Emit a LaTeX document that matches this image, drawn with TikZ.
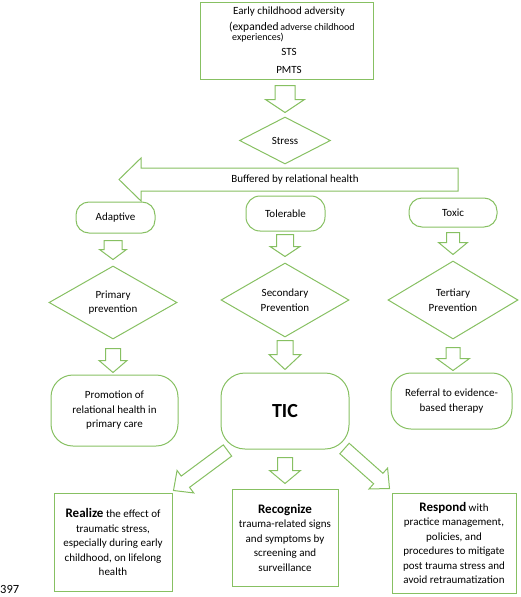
\documentclass[tikz,border=0pt]{standalone}
\usepackage{fontspec}
\setmainfont{Carlito}
\usetikzlibrary{shapes.geometric,calc}
\definecolor{gline}{RGB}{135,192,98}
\newcommand\barrow[5]{%
  \coordinate (basS) at (#1);
  \coordinate (basT) at (#2);
  \coordinate (basH) at ($(basT)!#5!(basS)$);
  \draw[arr] ($(basS)!#3!90:(basT)$) -- ($(basH)!#3!90:(basT)$) -- ($(basH)!#4!90:(basT)$)
    -- (basT) -- ($(basH)!#4!-90:(basT)$) -- ($(basH)!#3!-90:(basT)$) -- ($(basS)!#3!-90:(basT)$) -- cycle;
}
\begin{document}
\begin{tikzpicture}[x=1pt,y=-1pt,
  box/.style={draw=gline, line width=1pt, inner sep=0pt, align=center, font=\fontsize{11}{14.5}\selectfont},
  term/.style={box, rounded corners=#1},
  dia/.style={box, diamond},
  arr/.style={draw=gline, line width=1pt, line join=miter, fill=white},
  txt/.style={inner sep=0pt, font=\fontsize{11}{14.5}\selectfont}
]
\useasboundingbox (0,0) rectangle (520,597);

% top box
\node[box, minimum width=173pt, minimum height=77pt] (top) at (286.5,40.5) {};
\node[txt] (t1) at (289,12) {Early childhood adversity};
\node[txt, anchor=west] (t2) at (229,27) {{\fontsize{11.5}{12}\selectfont (expanded}\,{\fontsize{10}{12}\selectfont adverse childhood}};
\node[txt, anchor=west, font=\fontsize{10}{12}\selectfont] (t3) at (232,38) {experiences)};
\node[txt] (t4) at (289,52) {STS};
\node[txt] (t5) at (289,70) {PMTS};

% stress
\node[dia, minimum width=91pt, minimum height=47pt] (stress) at (285,140.5) {Stress};

% buffered arrow
\coordinate (bufR) at (458,179.5);
\coordinate (bufL) at (119,179.5);
\barrow{bufR}{bufL}{11.5pt}{21.5pt}{22pt}
\node[txt] (buf) at (295,180) {Buffered by relational health};

% row 1
\node[term=13pt, minimum width=79pt, minimum height=31pt] (adaptive) at (115.5,217.5) {Adaptive};
\node[term=14pt, minimum width=79pt, minimum height=35pt] (tolerable) at (285.5,213.5) {Tolerable};
\node[term=13pt, minimum width=88pt, minimum height=29pt] (toxic) at (453,212.5) {Toxic};

% diamonds
\node[dia, minimum width=128pt, minimum height=73pt] (prim) at (113,302.5) {Primary\\prevention};
\node[dia, minimum width=128pt, minimum height=74pt] (sec) at (285,300) {Secondary\\Prevention};
\node[dia, minimum width=130pt, minimum height=78pt] (tert) at (453,300) {Tertiary\\Prevention};

% row 3
\node[term=22pt, minimum width=127pt, minimum height=71pt] (prom) at (114.5,410.5) {Promotion of\\relational health in\\primary care};
\node[term=24pt, minimum width=128pt, minimum height=76pt, font=\fontsize{20}{22}\selectfont\bfseries] (tic) at (285,411) {TIC};
\node[term=20pt, minimum width=121pt, minimum height=56pt] (ref) at (451.5,401) {Referral to evidence-\\based therapy};

% bottom boxes
\node[box, minimum width=118pt, minimum height=98pt] (realize) at (113,542)
  {{\fontsize{13}{15}\selectfont\bfseries Realize} the effect of\\traumatic stress,\\especially during early\\childhood, on lifelong\\health};
\node[box, minimum width=106pt, minimum height=97pt] (recognize) at (285,537.5)
  {{\fontsize{13}{15}\selectfont\bfseries Recognize}\\trauma-related signs\\and symptoms by\\screening and\\surveillance};
\node[box, minimum width=124pt, minimum height=100pt] (respond) at (454,543)
  {{\fontsize{13}{15}\selectfont\bfseries Respond} with\\practice management,\\policies, and\\procedures to mitigate\\post trauma stress and\\avoid retraumatization};

\node[txt, anchor=west, font=\fontsize{12.5}{14}\selectfont] (num) at (0,589) {397};

% block arrows
\barrow{$(stress.north)+(0,-31)$}{$(stress.north)+(0,-4)$}{10pt}{19.5pt}{13pt}
\barrow{$(prim.north)+(0,-25)$}{$(prim.north)+(0,-6)$}{9pt}{13.5pt}{10pt}
\barrow{$(sec.north)+(0,-28)$}{$(sec.north)+(0,-6)$}{8.5pt}{15pt}{10pt}
\barrow{$(tert.north)+(0,-28)$}{$(tert.north)+(0,-6)$}{6.5pt}{14.5pt}{12pt}
\barrow{$(prim.south)+(0,9)$}{$(prim.south)+(0,33)$}{7.5pt}{14pt}{12pt}
\barrow{$(sec.south)+(0,3)$}{$(sec.south)+(0,32)$}{8pt}{16pt}{15pt}
\barrow{$(tert.south)+(0,8)$}{$(tert.south)+(0,31)$}{7pt}{16.5pt}{12pt}
\barrow{$(tic.south)+(0,8)$}{$(tic.south)+(0,34)$}{7.5pt}{15.5pt}{13pt}
\barrow{$(tic.center)+(-57.5,39.5)$}{$(realize.north east)+(1,-2)$}{7pt}{14pt}{14.8pt}
\barrow{$(tic.center)+(59.5,37.5)$}{$(respond.north west)+(-2,-4)$}{7pt}{14pt}{15pt}
\end{tikzpicture}
\end{document}
